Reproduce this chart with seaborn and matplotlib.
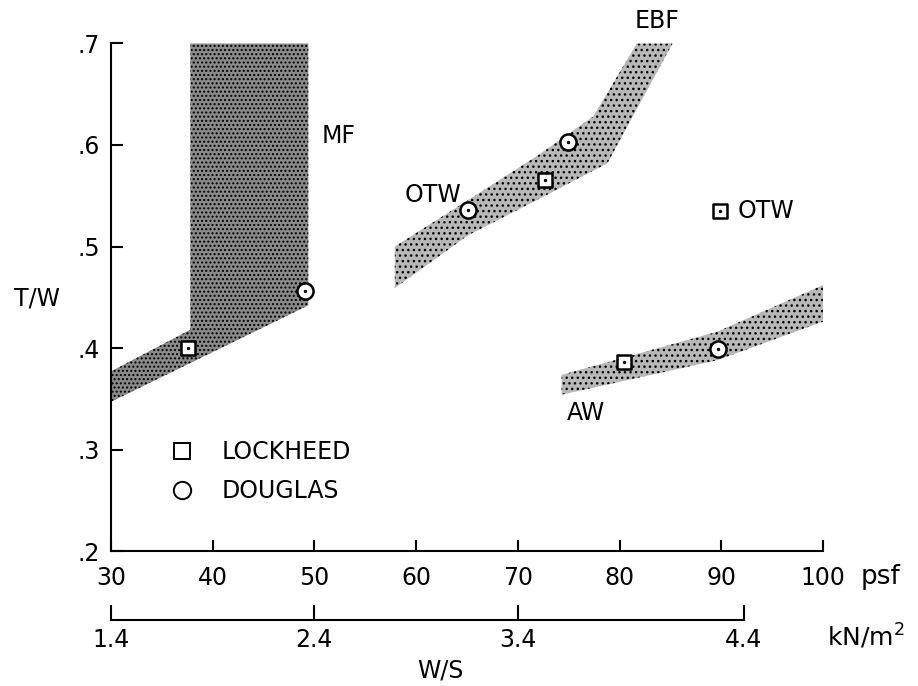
import matplotlib
matplotlib.use("Agg")
import matplotlib.pyplot as plt
from matplotlib.lines import Line2D
import seaborn as sns

# ---- data ----
# shaded regions, W/S (psf) vs T/W
mf_x = [30.0, 49.4, 49.4, 37.8, 37.8, 30.0]
mf_y = [0.347, 0.442, 0.700, 0.700, 0.418, 0.377]

ebf_upper_x = [57.9, 65.0, 72.0, 77.4, 81.7]
ebf_upper_y = [0.500, 0.545, 0.590, 0.628, 0.700]
ebf_lower_x = [57.9, 65.1, 72.5, 78.8, 85.2]
ebf_lower_y = [0.459, 0.511, 0.549, 0.582, 0.700]

aw_x = [74.3, 89.6, 100.0]
aw_upper_y = [0.3735, 0.416, 0.462]
aw_lower_y = [0.354, 0.388, 0.426]

# design points
lockheed_x = [37.6, 72.7, 80.4, 89.9]
lockheed_y = [0.400, 0.5655, 0.386, 0.535]
douglas_x = [49.1, 65.1, 74.9, 89.7]
douglas_y = [0.456, 0.536, 0.603, 0.399]

# axes ticks
psf_ticks = [30, 40, 50, 60, 70, 80, 90, 100]
tw_ticks = [0.2, 0.3, 0.4, 0.5, 0.6, 0.7]
tw_labels = [".2", ".3", ".4", ".5", ".6", ".7"]
kn_labels = ["1.4", "2.4", "3.4", "4.4"]
kn_at_psf = [30, 50, 70, 92.2]

# region / point labels
region_labels = ["MF", "EBF", "OTW", "OTW", "AW"]
region_label_x = [52.4, 83.7, 61.7, 94.4, 76.7]
region_label_y = [0.609, 0.722, 0.551, 0.535, 0.336]

# ---- style ----
sns.set_theme(style="ticks", rc={
    "axes.linewidth": 1.5,
    "axes.edgecolor": "black",
    "axes.labelcolor": "black",
    "text.color": "black",
    "xtick.color": "black",
    "ytick.color": "black",
    "xtick.major.width": 1.5,
    "ytick.major.width": 1.5,
    "hatch.linewidth": 1.0,
})
plt.rcParams["font.family"] = ["DejaVu Sans"]

FS = 17
fig = plt.figure(figsize=(9.18, 6.86), dpi=100)
ax = fig.add_axes([0.12092, 0.19679, 0.77560, 0.73980])
ax.set_xlim(30, 100)
ax.set_ylim(0.2, 0.7)
for s in ["top", "right"]:
    ax.spines[s].set_visible(False)

# shaded (stippled) regions
ax.fill(mf_x, mf_y, facecolor="#8a8a8a", edgecolor="black", hatch="....",
        linewidth=0, zorder=1)
ebf_poly_x = ebf_upper_x + ebf_lower_x[::-1]
ebf_poly_y = ebf_upper_y + ebf_lower_y[::-1]
ax.fill(ebf_poly_x, ebf_poly_y, facecolor="#b8b8b8", edgecolor="black",
        hatch="...", linewidth=0, zorder=1)
aw_poly_x = aw_x + aw_x[::-1]
aw_poly_y = aw_upper_y + aw_lower_y[::-1]
ax.fill(aw_poly_x, aw_poly_y, facecolor="#b8b8b8", edgecolor="black",
        hatch="...", linewidth=0, zorder=1)

# design points
sns.scatterplot(x=lockheed_x, y=lockheed_y, marker="s", s=115, color="white",
                edgecolor="black", linewidth=1.8, ax=ax, zorder=5, legend=False)
sns.scatterplot(x=douglas_x, y=douglas_y, marker="o", s=135, color="white",
                edgecolor="black", linewidth=1.8, ax=ax, zorder=5, legend=False)
sns.scatterplot(x=lockheed_x + douglas_x, y=lockheed_y + douglas_y, marker="o",
                s=6, color="black", linewidth=0, ax=ax, zorder=6, legend=False)

# region labels
for t, x, y in zip(region_labels, region_label_x, region_label_y):
    ax.text(x, y, t, fontsize=FS, ha="center", va="center", clip_on=False)

# ticks
ax.set_xticks(psf_ticks)
ax.set_xticklabels([str(v) for v in psf_ticks])
ax.set_yticks(tw_ticks)
ax.set_yticklabels(tw_labels)
ax.tick_params(axis="x", direction="in", length=8, pad=11, labelsize=FS)
ax.tick_params(axis="y", direction="in", length=8.6, pad=8, labelsize=FS)

ax.set_ylabel("T/W", rotation=0, fontsize=FS, ha="center", va="center")
ax.yaxis.set_label_coords(-0.104, 0.4985)
ax.text(1.0815, -0.0512, "psf", transform=ax.transAxes, fontsize=19,
        ha="center", va="center")

# legend
handles = [
    Line2D([], [], linestyle="none", marker="s", markersize=12,
           markerfacecolor="white", markeredgecolor="black", markeredgewidth=1.4),
    Line2D([], [], linestyle="none", marker="o", markersize=12.5,
           markerfacecolor="white", markeredgecolor="black", markeredgewidth=1.4),
]
ax.legend(handles, ["LOCKHEED", "DOUGLAS"], loc="center left",
          bbox_to_anchor=(0.0838, 0.1567), frameon=False, fontsize=FS,
          handlelength=1.0, handletextpad=1.17, labelspacing=0.62,
          borderpad=0, borderaxespad=0)

# secondary SI scale
ax2 = fig.add_axes([0.12092, 0.0962, 0.77560, 0.05])
ax2.set_xlim(30, 100)
ax2.patch.set_visible(False)
for s in ["top", "right", "left"]:
    ax2.spines[s].set_visible(False)
ax2.spines["bottom"].set_bounds(kn_at_psf[0], kn_at_psf[-1])
ax2.set_yticks([])
ax2.set_xticks(kn_at_psf)
ax2.set_xticklabels(kn_labels)
ax2.tick_params(axis="x", direction="in", length=10.8, pad=5.5, labelsize=FS)
ax2.set_xlabel("W/S", fontsize=FS)
ax2.xaxis.set_label_coords(0.462, -1.11)
ax2.text(1.060, -0.47, "kN/m$^2$", transform=ax2.transAxes, fontsize=18,
         ha="center", va="center")

fig.savefig("out.png", dpi=100)
